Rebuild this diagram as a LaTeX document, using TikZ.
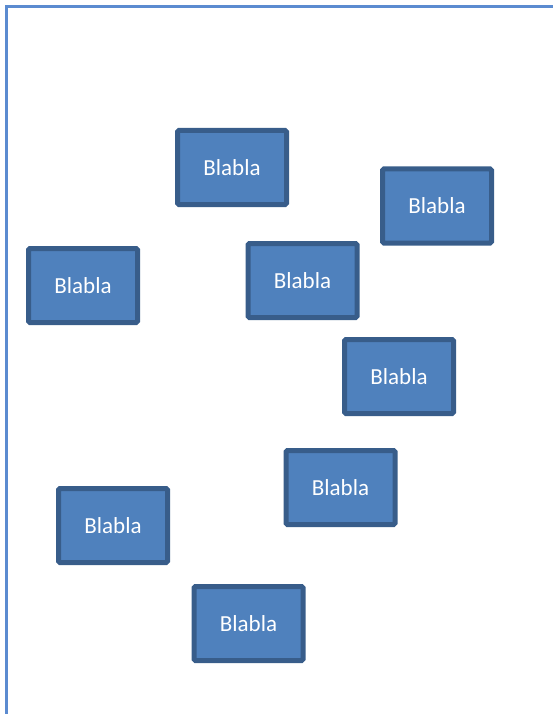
\documentclass[tikz,border=0pt]{standalone}
\usepackage{fontspec}
\setmainfont{Carlito}
\definecolor{boxfill}{HTML}{4F81BD}
\definecolor{boxline}{HTML}{385D8A}
\definecolor{frameline}{HTML}{5B8BD0}
\begin{document}
\begin{tikzpicture}[x=1pt,y=-1pt,
  blabox/.style={draw=boxline, fill=boxfill, line width=5pt, rounded corners=1.5pt,
    minimum width=109pt, minimum height=74pt, inner sep=0pt,
    text=white, font=\fontsize{23}{26}\selectfont}]
  \useasboundingbox (0,0) rectangle (552,714);
  % outer frame (left and top edges visible)
  \draw[frameline, line width=2.2pt] (6.5,720) -- (6.5,6.5) -- (560,6.5);
  % boxes
  \node[blabox] (b1) at (232,167.5) {Blabla};
  \node[blabox] (b2) at (437,206) {Blabla};
  \node[blabox] (b3) at (83,285.5) {Blabla};
  \node[blabox] (b4) at (302.5,280.5) {Blabla};
  \node[blabox] (b5) at (399,376.5) {Blabla};
  \node[blabox] (b6) at (340.5,487.5) {Blabla};
  \node[blabox] (b7) at (113,525.5) {Blabla};
  \node[blabox] (b8) at (248.5,623.5) {Blabla};
\end{tikzpicture}
\end{document}
